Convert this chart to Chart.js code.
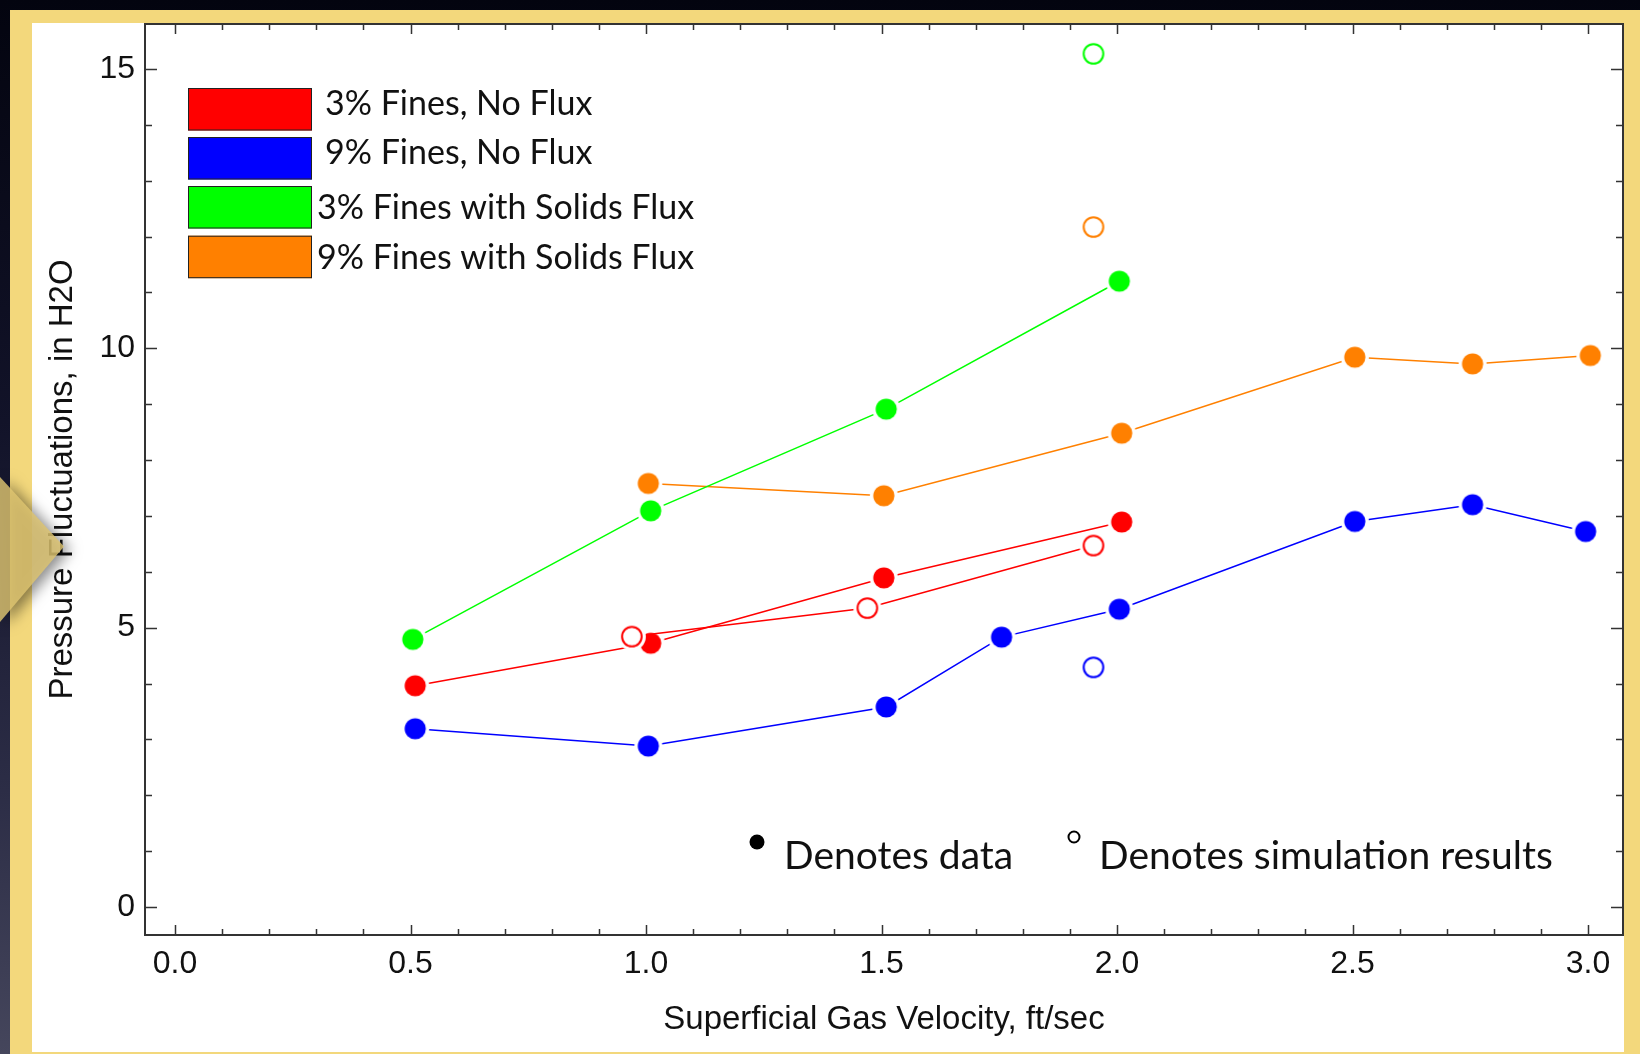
<!DOCTYPE html>
<html>
<head>
<meta charset="utf-8">
<title>Pressure Fluctuations vs Superficial Gas Velocity</title>
<script src="https://cdn.jsdelivr.net/npm/chart.js@4.4.1/dist/chart.umd.min.js"></script>
<style>
  html, body { margin: 0; padding: 0; }
  body {
    width: 1640px; height: 1054px; overflow: hidden; position: relative;
    background: linear-gradient(to bottom, #03040f 0%, #121329 40%, #2c2d46 75%, #45465c 100%);
  }
  #gold { position: absolute; left: 10px; top: 10px; right: 0; bottom: 0; background: #f3d87c; }
  #panel { position: absolute; left: 32px; top: 23px; width: 1592px; height: 1029px; background: #fff; }
  #arrowWrap { position: absolute; left: 0; top: 477px; width: 64px; height: 145px;
    filter: drop-shadow(6px 3px 7px rgba(0,0,0,0.55)); }
  #arrow { width: 100%; height: 100%; background: rgba(222,196,112,0.82);
    clip-path: polygon(0 0, 100% 48%, 0 100%); }
</style>
</head>
<body>
<div id="gold"></div>
<div id="panel"><canvas id="myChart" width="1592" height="1029"></canvas></div>
<div id="arrowWrap"><div id="arrow"></div></div>

<script>
// measured data (filled = data, open = simulation)
const velRed = [0.51, 1.01, 1.505, 2.01];
const presRed = [3.96, 4.72, 5.89, 6.89];
const velBlue = [0.51, 1.005, 1.51, 1.755, 2.005, 2.505, 2.755, 2.995];
const presBlue = [3.19, 2.88, 3.58, 4.83, 5.33, 6.90, 7.20, 6.72];
const velGreen = [0.505, 1.01, 1.51, 2.005];
const presGreen = [4.79, 7.09, 8.91, 11.20];
const velOrange = [1.005, 1.505, 2.01, 2.505, 2.755, 3.005];
const presOrange = [7.58, 7.36, 8.48, 9.84, 9.72, 9.87];

const velRedSim = [0.97, 1.47, 1.95];
const presRedSim = [4.84, 5.35, 6.47];
const velBlueSim = [1.95];
const presBlueSim = [4.29];
const velGreenSim = [1.95];
const presGreenSim = [15.27];
const velOrangeSim = [1.95];
const presOrangeSim = [12.17];

const seriesNames = ['3% Fines, No Flux', '9% Fines, No Flux', '3% Fines with Solids Flux', '9% Fines with Solids Flux'];
const seriesColors = ['#ff0000', '#0000ff', '#00ff00', '#ff8000'];

const xTickValues = [0, 0.5, 1.0, 1.5, 2.0, 2.5, 3.0];
const yTickValues = [0, 5, 10, 15];

function pts(xs, ys) {
  return xs.map((x, i) => ({x: x, y: ys[i]}));
}

// round marker with a white halo, like the original plot
function marker(color, open) {
  const c = document.createElement('canvas');
  c.width = 30; c.height = 30;
  const g = c.getContext('2d');
  g.fillStyle = '#fff';
  g.beginPath(); g.arc(15, 15, 14, 0, Math.PI * 2); g.fill();
  g.beginPath();
  if (open) {
    g.arc(15, 15, 9.8, 0, Math.PI * 2);
    g.lineWidth = 2; g.strokeStyle = color; g.stroke();
  } else {
    g.arc(15, 15, 10.6, 0, Math.PI * 2);
    g.fillStyle = color; g.fill();
  }
  return c;
}

function series(label, xs, ys, color, open) {
  return {
    label: label,
    data: pts(xs, ys),
    showLine: true,
    borderColor: color,
    backgroundColor: color,
    borderWidth: 1.5,
    pointStyle: marker(color, open),
    pointRadius: 10,
    pointHoverRadius: 10
  };
}

const tickFont = {family: "'Liberation Sans', Arial, sans-serif", size: 32};
const titleFont = {family: "'Liberation Sans', Arial, sans-serif", size: 33};
const noteFont = "Lato, 'Open Sans', sans-serif";

// frame, inward ticks, legend boxes and notes
const decorations = {
  id: 'decorations',
  afterDraw(chart) {
    const ctx = chart.ctx;
    const a = chart.chartArea;
    const sx = chart.scales.x, sy = chart.scales.y;
    ctx.save();
    ctx.strokeStyle = '#333';
    ctx.lineWidth = 1.5;
    ctx.beginPath();
    for (let i = 0; i <= 30; i++) {
      const v = i / 10;
      const px = Math.round(sx.getPixelForValue(v)) + 0.5;
      const len = (i % 5 === 0) ? 10 : 6;
      ctx.moveTo(px, a.bottom); ctx.lineTo(px, a.bottom - len);
      ctx.moveTo(px, a.top); ctx.lineTo(px, a.top + len);
    }
    for (let v = 0; v <= 15; v++) {
      const py = Math.round(sy.getPixelForValue(v)) + 0.5;
      const len = (v % 5 === 0) ? 12 : 7;
      ctx.moveTo(a.left, py); ctx.lineTo(a.left + len, py);
      ctx.moveTo(a.right, py); ctx.lineTo(a.right - len, py);
    }
    ctx.stroke();
    ctx.lineWidth = 2;
    ctx.strokeRect(a.left, a.top, a.right - a.left, a.bottom - a.top);

    // legend
    const boxY = [65, 114, 163, 212.7];
    const textX = [293, 293, 285, 285];
    const textY = [92, 140.5, 195.5, 245.5];
    ctx.font = '34px ' + noteFont;
    ctx.textBaseline = 'alphabetic';
    ctx.textAlign = 'left';
    for (let i = 0; i < seriesNames.length; i++) {
      ctx.fillStyle = seriesColors[i];
      ctx.fillRect(156, boxY[i], 124, 42.5);
      ctx.lineWidth = 1;
      ctx.strokeStyle = '#222';
      ctx.strokeRect(156.5, boxY[i] + 0.5, 123, 41.5);
      ctx.fillStyle = '#111';
      ctx.fillText(seriesNames[i], textX[i], textY[i]);
    }

    // notes
    ctx.fillStyle = '#000';
    ctx.beginPath(); ctx.arc(725, 819, 7.5, 0, Math.PI * 2); ctx.fill();
    ctx.lineWidth = 2; ctx.strokeStyle = '#000';
    ctx.beginPath(); ctx.arc(1042, 814, 5.5, 0, Math.PI * 2); ctx.stroke();
    ctx.font = '39px ' + noteFont;
    ctx.fillStyle = '#111';
    ctx.fillText('Denotes data', 752, 846);
    ctx.fillText('Denotes simulation results', 1067, 846);
    ctx.restore();
  }
};

const ctx = document.getElementById('myChart').getContext('2d');
const chart = new Chart(ctx, {
  type: 'scatter',
  data: {
    datasets: [
      series('3% Fines, No Flux (simulation)', velRedSim, presRedSim, seriesColors[0], true),
      series('9% Fines, No Flux (simulation)', velBlueSim, presBlueSim, seriesColors[1], true),
      series('3% Fines with Solids Flux (simulation)', velGreenSim, presGreenSim, seriesColors[2], true),
      series('9% Fines with Solids Flux (simulation)', velOrangeSim, presOrangeSim, seriesColors[3], true),
      series(seriesNames[0], velRed, presRed, seriesColors[0], false),
      series(seriesNames[1], velBlue, presBlue, seriesColors[1], false),
      series(seriesNames[2], velGreen, presGreen, seriesColors[2], false),
      series(seriesNames[3], velOrange, presOrange, seriesColors[3], false)
    ]
  },
  options: {
    responsive: false,
    animation: false,
    devicePixelRatio: 1,
    layout: {autoPadding: false, padding: {top: 1, right: 1, left: 0, bottom: 0}},
    plugins: {legend: {display: false}, tooltip: {enabled: false}},
    scales: {
      x: {
        type: 'linear',
        min: -0.0637,
        max: 3.0743,
        grid: {display: false, drawTicks: false},
        border: {display: false},
        afterBuildTicks: s => { s.ticks = xTickValues.map(v => ({value: v})); },
        afterFit: s => { s.height = 117; s.paddingLeft = 0; s.paddingRight = 0; },
        ticks: {padding: 10, font: tickFont, color: '#111', maxRotation: 0, autoSkip: false,
          callback: v => Number(v).toFixed(1)},
        title: {display: true, text: 'Superficial Gas Velocity, ft/sec', font: titleFont, color: '#111',
          padding: {top: 0, bottom: 12}}
      },
      y: {
        type: 'linear',
        min: -0.501,
        max: 15.804,
        grid: {display: false, drawTicks: false},
        border: {display: false},
        afterBuildTicks: s => { s.ticks = yTickValues.map(v => ({value: v})); },
        afterFit: s => { s.width = 113; s.paddingTop = 0; s.paddingBottom = 0; },
        ticks: {padding: 10, font: tickFont, color: '#111', autoSkip: false,
          callback: v => String(v)},
        title: {display: true, text: 'Pressure Fluctuations, in H2O', font: titleFont, color: '#111',
          padding: {top: 11, bottom: 0}}
      }
    }
  },
  plugins: [decorations]
});
</script>
</body>
</html>
